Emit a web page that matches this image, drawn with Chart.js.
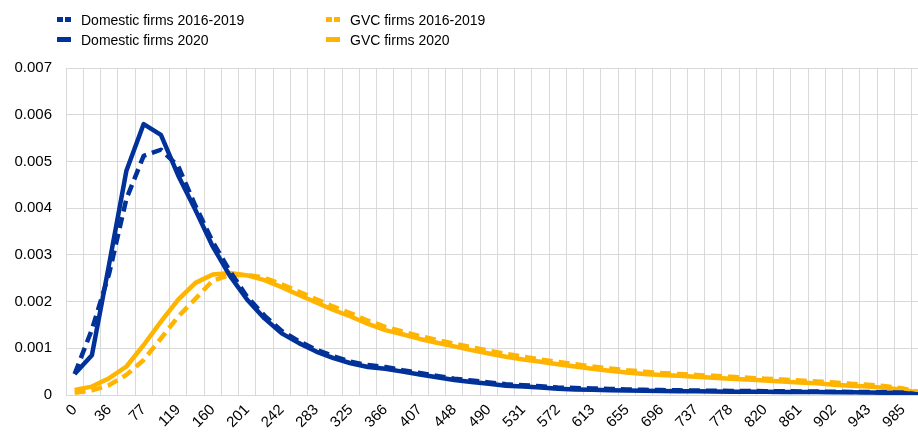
<!DOCTYPE html>
<html>
<head>
<meta charset="utf-8">
<script src="https://cdn.jsdelivr.net/npm/chart.js@4"></script>
<style>
  html, body { margin: 0; padding: 0; background: #fff; overflow: hidden; }
  #wrap { position: relative; width: 918px; height: 434px; overflow: hidden; }
  #legend { position: absolute; left: 0; top: 0; font-family: "Liberation Sans", Arial, sans-serif; font-size: 14px; color: #000; }
  .item { position: absolute; white-space: nowrap; line-height: 16px; }
  .mk { position: absolute; top: 5px; height: 5px; }
  .solid { width: 14px; }
  .dash { width: 6px; }
</style>
</head>
<body>
<div id="wrap">
  <canvas id="c" width="939" height="434"></canvas>
  <div id="legend"></div>
</div>
<script>
const categories = [0, 15, 36, 56, 77, 98, 119, 139, 160, 180, 201, 222, 242, 263, 283, 304, 325, 345, 366, 386,
  407, 428, 448, 469, 490, 510, 531, 551, 572, 593, 613, 634, 655, 675, 696, 716, 737, 758, 778, 799,
  820, 840, 861, 881, 902, 923, 943, 964, 985, 1005];

const domestic1619 = [0.00045, 0.0014, 0.0026, 0.0042, 0.00512, 0.00525, 0.0049, 0.00405, 0.00328, 0.00265,
  0.0021, 0.0017, 0.00137, 0.00115, 0.00097, 0.00083, 0.00071, 0.00064, 0.0006, 0.00053,
  0.00047, 0.00041, 0.00035, 0.00031, 0.00027, 0.00023, 0.00021, 0.00019, 0.00016, 0.00015,
  0.00014, 0.00013, 0.00012, 0.00011, 0.000105, 0.0001, 0.000095, 0.00009, 0.000088, 0.000085,
  0.000082, 0.00008, 0.000077, 0.000074, 0.00007, 0.000066, 0.000062, 0.000058, 0.00005, 0.000005];

const domestic2020 = [0.00045, 0.00085, 0.0028, 0.0048, 0.0058, 0.00557, 0.0047, 0.00396, 0.00318, 0.00255,
  0.00204, 0.00164, 0.00132, 0.00111, 0.00093, 0.00079, 0.00068, 0.0006, 0.00056, 0.0005,
  0.00044, 0.00038, 0.00032, 0.00028, 0.00024, 0.0002, 0.00018, 0.00016, 0.000135, 0.00012,
  0.00011, 0.0001, 0.000095, 0.00009, 0.000085, 0.00008, 0.000078, 0.000075, 0.000072, 0.00007,
  0.000068, 0.000066, 0.000064, 0.000062, 0.00006, 0.000057, 0.000054, 0.00005, 0.000045, 0.000005];

const gvc1619 = [0.00005, 0.0001, 0.00021, 0.00043, 0.00075, 0.00121, 0.00168, 0.00206, 0.00245, 0.00257,
  0.00257, 0.00251, 0.00237, 0.00221, 0.00205, 0.00189, 0.00175, 0.00159, 0.00146, 0.00136,
  0.00126, 0.00118, 0.0011, 0.00102, 0.00095, 0.00088, 0.00082, 0.00076, 0.00071, 0.00066,
  0.00061, 0.00057, 0.00053, 0.0005, 0.00047, 0.00045, 0.00043, 0.00041, 0.00039, 0.00037,
  0.00035, 0.00033, 0.00031, 0.00029, 0.00027, 0.00024, 0.00022, 0.00019, 0.00014, 0.00006];

const gvc2020 = [0.00011, 0.00018, 0.00036, 0.00061, 0.00107, 0.00157, 0.00204, 0.0024, 0.00258, 0.00261,
  0.00256, 0.00246, 0.00231, 0.00214, 0.00198, 0.00182, 0.00168, 0.00152, 0.00139, 0.0013,
  0.0012, 0.00112, 0.00104, 0.00096, 0.00089, 0.00082, 0.00076, 0.00071, 0.00066, 0.00061,
  0.00056, 0.00052, 0.00048, 0.00045, 0.00043, 0.00041, 0.00039, 0.00037, 0.00035, 0.00033,
  0.00031, 0.00029, 0.00027, 0.00025, 0.00022, 0.0002, 0.00018, 0.00015, 0.00011, 0.00005];

const yTicks = [0, 0.001, 0.002, 0.003, 0.004, 0.005, 0.006, 0.007];

const BLUE = '#003299';
const YELLOW = '#FFB400';
const DASH = [11, 6];
const FONT = { family: '"Liberation Sans", Arial, sans-serif', size: 15 };

// legend (2 x 2, like the original)
const legendItems = [
  { text: 'Domestic firms 2016-2019', color: BLUE, dashed: true, x: 57, y: 12 },
  { text: 'Domestic firms 2020', color: BLUE, dashed: false, x: 57, y: 32 },
  { text: 'GVC firms 2016-2019', color: YELLOW, dashed: true, x: 326, y: 12 },
  { text: 'GVC firms 2020', color: YELLOW, dashed: false, x: 326, y: 32 }
];
const lg = document.getElementById('legend');
legendItems.forEach(it => {
  const d = document.createElement('div');
  d.className = 'item';
  d.style.left = it.x + 'px';
  d.style.top = it.y + 'px';
  let mk;
  if (it.dashed) {
    mk = `<span class="mk dash" style="left:0;background:${it.color}"></span><span class="mk dash" style="left:8px;background:${it.color}"></span>`;
  } else {
    mk = `<span class="mk solid" style="left:0;background:${it.color}"></span>`;
  }
  d.innerHTML = mk + `<span style="margin-left:24px">${it.text}</span>`;
  lg.appendChild(d);
});

function ds(label, data, color, dashed){
  return {
    label, data,
    borderColor: color,
    backgroundColor: color,
    borderWidth: 4.5,
    borderDash: dashed ? DASH : [],
    borderCapStyle: 'butt',
    borderJoinStyle: 'round',
    pointRadius: 0,
    tension: 0,
    fill: false
  };
}

new Chart(document.getElementById('c').getContext('2d'), {
  type: 'line',
  data: {
    labels: categories,
    datasets: [
      ds('Domestic firms 2016-2019', domestic1619, BLUE, true),
      ds('Domestic firms 2020', domestic2020, BLUE, false),
      ds('GVC firms 2016-2019', gvc1619, YELLOW, true),
      ds('GVC firms 2020', gvc2020, YELLOW, false)
    ]
  },
  options: {
    responsive: false,
    devicePixelRatio: 1,
    animation: false,
    layout: { padding: { top: 68, left: 0, right: 0, bottom: 0 } },
    plugins: { legend: { display: false }, tooltip: { enabled: false } },
    scales: {
      x: {
        type: 'category',
        offset: true,
        grid: { offset: true, color: '#d9d9d9', lineWidth: 1, drawTicks: false },
        border: { color: '#d9d9d9', width: 1 },
        ticks: {
          autoSkip: false,
          maxRotation: 45,
          minRotation: 45,
          padding: 6,
          color: '#000',
          font: FONT,
          callback: function(v, i){ return i % 2 === 0 ? String(categories[i]) : ''; }
        },
        afterFit: function(s){ s.height = 39; }
      },
      y: {
        min: 0,
        max: 0.007,
        afterBuildTicks: function(s){ s.ticks = yTicks.map(v => ({ value: v })); },
        grid: { color: '#d9d9d9', lineWidth: 1, drawTicks: false },
        border: { display: false },
        ticks: {
          padding: 14,
          color: '#000',
          font: FONT,
          callback: function(v){ return v === 0 ? '0' : v.toFixed(3); }
        },
        afterFit: function(s){ s.width = 66; }
      }
    }
  }
});
</script>
</body>
</html>
